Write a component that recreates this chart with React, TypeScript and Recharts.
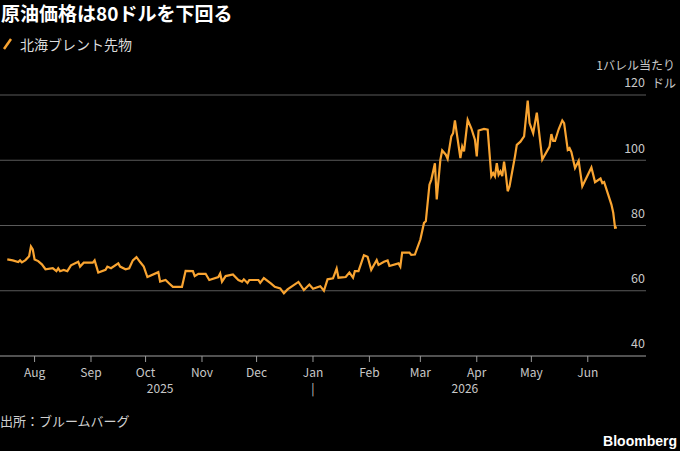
import React from "react";
import { LineChart, Line, XAxis, YAxis, CartesianGrid } from "recharts";

const dates = [
  "2025-07-17", "2025-07-20", "2025-07-23", "2025-07-24", "2025-07-25", "2025-07-27",
  "2025-07-29", "2025-07-30", "2025-07-31", "2025-08-01", "2025-08-03", "2025-08-05",
  "2025-08-07", "2025-08-11", "2025-08-13", "2025-08-14", "2025-08-15", "2025-08-17",
  "2025-08-19", "2025-08-21", "2025-08-25", "2025-08-26", "2025-08-28", "2025-09-02",
  "2025-09-03", "2025-09-05", "2025-09-09", "2025-09-10", "2025-09-12", "2025-09-16",
  "2025-09-17", "2025-09-20", "2025-09-22", "2025-09-24", "2025-09-26", "2025-09-28",
  "2025-09-30", "2025-10-02", "2025-10-08", "2025-10-09", "2025-10-12", "2025-10-14",
  "2025-10-16", "2025-10-21", "2025-10-23", "2025-10-27", "2025-10-28", "2025-10-30",
  "2025-11-03", "2025-11-05", "2025-11-10", "2025-11-11", "2025-11-12", "2025-11-14",
  "2025-11-18", "2025-11-21", "2025-11-23", "2025-11-24", "2025-11-26", "2025-11-27",
  "2025-12-02", "2025-12-03", "2025-12-05", "2025-12-09", "2025-12-11", "2025-12-14",
  "2025-12-16", "2025-12-18", "2025-12-24", "2025-12-27", "2025-12-30", "2026-01-01",
  "2026-01-05", "2026-01-07", "2026-01-09", "2026-01-12", "2026-01-14", "2026-01-15",
  "2026-01-19", "2026-01-21", "2026-01-23", "2026-01-24", "2026-01-26", "2026-01-29",
  "2026-01-31", "2026-02-02", "2026-02-05", "2026-02-06", "2026-02-09", "2026-02-11",
  "2026-02-12", "2026-02-17", "2026-02-18", "2026-02-19", "2026-02-23", "2026-02-24",
  "2026-02-26", "2026-03-01", "2026-03-03", "2026-03-04", "2026-03-06", "2026-03-07",
  "2026-03-09", "2026-03-10", "2026-03-12", "2026-03-13", "2026-03-15", "2026-03-16",
  "2026-03-18", "2026-03-19", "2026-03-20", "2026-03-21", "2026-03-23", "2026-03-24",
  "2026-03-25", "2026-03-27", "2026-03-29", "2026-03-31", "2026-04-01", "2026-04-02",
  "2026-04-05", "2026-04-07", "2026-04-09", "2026-04-10", "2026-04-11", "2026-04-12",
  "2026-04-13", "2026-04-14", "2026-04-15", "2026-04-16", "2026-04-17", "2026-04-18",
  "2026-04-19", "2026-04-20", "2026-04-22", "2026-04-23", "2026-04-25", "2026-04-27",
  "2026-04-29", "2026-04-30", "2026-05-02", "2026-05-04", "2026-05-07", "2026-05-11",
  "2026-05-12", "2026-05-13", "2026-05-14", "2026-05-16", "2026-05-18", "2026-05-19",
  "2026-05-21", "2026-05-22", "2026-05-23", "2026-05-25", "2026-05-27", "2026-05-29",
  "2026-06-03", "2026-06-05", "2026-06-08", "2026-06-09", "2026-06-10", "2026-06-14",
  "2026-06-15", "2026-06-16", "2026-06-17",
];

const brent = [
  69.6, 69.3, 68.8, 69.3, 68.7, 69.4,
  70.6, 73.6, 72.7, 69.6, 69.1, 68.1,
  66.6, 66.9, 66.0, 66.9, 66.0, 66.4,
  66.0, 67.8, 68.9, 67.4, 68.6, 68.6,
  69.3, 65.6, 66.4, 67.4, 66.9, 68.4,
  67.4, 66.6, 66.9, 69.3, 70.3, 68.8,
  67.4, 64.2, 65.7, 62.8, 63.3, 62.2,
  61.2, 61.2, 66.1, 66.0, 64.5, 65.2,
  65.2, 63.3, 64.2, 65.3, 62.8, 64.5,
  65.0, 63.3, 62.8, 63.5, 62.4, 63.3,
  63.3, 62.4, 63.9, 62.2, 61.2, 60.7,
  59.2, 60.4, 62.7, 60.2, 61.9, 60.6,
  61.4, 60.0, 63.5, 63.8, 66.8, 64.0,
  64.2, 65.6, 64.0, 66.0, 66.0, 70.9,
  70.4, 66.4, 69.4, 67.9, 68.9, 69.3,
  67.6, 68.4, 67.4, 71.7, 71.7, 71.0,
  71.1, 75.7, 80.8, 81.3, 92.5, 94.0,
  99.1, 88.0, 100.2, 103.0, 101.7, 100.4,
  107.3, 108.3, 112.2, 108.3, 100.7, 104.2,
  102.7, 112.4, 109.8, 106.3, 101.2, 109.1,
  109.6, 109.4, 95.1, 96.1, 95.1, 99.1,
  95.6, 96.6, 95.1, 99.6, 95.6, 90.5,
  92.0, 95.1, 101.2, 104.7, 105.7, 107.3,
  118.3, 111.4, 108.3, 114.6, 100.2, 104.2,
  108.0, 105.9, 105.9, 109.5, 112.2, 111.4,
  103.2, 103.7, 102.5, 97.6, 99.8, 92.0,
  97.8, 93.3, 94.4, 93.0, 93.3, 86.4,
  83.9, 79.3, 79.4,
];

const monthTicks = [
  "2025-08-01", "2025-09-01", "2025-10-01", "2025-11-01", "2025-12-01", "2026-01-01",
  "2026-02-01", "2026-03-01", "2026-04-01", "2026-05-01", "2026-06-01",
];
const monthLabels = ["Aug", "Sep", "Oct", "Nov", "Dec", "Jan", "Feb", "Mar", "Apr", "May", "Jun"];
const xDomain = ["2025-07-13", "2026-07-03"];
const yearBreak = "2026-01-01";
const yearLabels = ["2025", "|", "2026"];
const yTicks = [40, 60, 80, 100, 120];

const dayNum = (s: string) => {
  const [y, m, d] = s.split("-").map(Number);
  return Date.UTC(y, m - 1, d) / 86400000;
};

const data = dates.map((d, i) => ({ t: dayNum(d), price: brent[i] }));

const firstDay = data[0].t;
const lastDay = data[data.length - 1].t;
const breakDay = dayNum(yearBreak);
const yearTicks = [(firstDay + breakDay) / 2, breakDay, (breakDay + lastDay) / 2];
const monthDays = monthTicks.map(dayNum);

const JP = '"Noto Sans CJK JP", "Noto Sans", sans-serif';
const ORANGE = "#f9a431";
const GRID = "#5a5a5a";
const TICK = "#c8c8c8";

const YTick = (props: any) => {
  const { x, y, payload } = props;
  const tx = x - 9;
  return (
    <g>
      <text x={tx} y={y - 11} textAnchor="end" dominantBaseline="middle" fill={TICK} fontSize={12.5} fontFamily={JP}>
        {payload.value}
      </text>
      {payload.value === 120 && (
        <>
          <text x={tx + 7} y={y - 10} textAnchor="start" dominantBaseline="middle" fill={TICK} fontSize={12} fontFamily={JP}>
            ドル
          </text>
          <text x={tx + 30} y={y - 28} textAnchor="end" dominantBaseline="middle" fill={TICK} fontSize={12} fontFamily={JP}>
            1バレル当たり
          </text>
        </>
      )}
    </g>
  );
};

export default function App() {
  return (
    <div
      style={{
        position: "fixed",
        left: 0,
        top: 0,
        width: 680,
        height: 451,
        background: "#000",
        fontFamily: JP,
        overflow: "hidden",
      }}
    >
      <div style={{ position: "absolute", left: 1, top: 0, fontSize: 19, fontWeight: 700, color: "#fff", lineHeight: "25px" }}>
        原油価格は80ドルを下回る
      </div>
      <div style={{ position: "absolute", left: 2, top: 34, display: "flex", alignItems: "center", color: "#dcdcdc", fontSize: 14, lineHeight: "20px" }}>
        <svg width={12} height={12} style={{ marginRight: 6 }}>
          <line x1={2} y1={11} x2={9} y2={1} stroke={ORANGE} strokeWidth={2.5} />
        </svg>
        北海ブレント先物
      </div>
      <div style={{ position: "absolute", left: 0, top: 0 }}>
        <LineChart width={680} height={451} data={data} margin={{ top: 95, right: 0, bottom: 49, left: 0 }}>
          <CartesianGrid horizontal vertical={false} stroke={GRID} />
          <XAxis
            dataKey="t"
            type="number"
            domain={[dayNum(xDomain[0]), dayNum(xDomain[1])]}
            ticks={monthDays}
            tickFormatter={(v: number) => monthLabels[monthDays.indexOf(v)] ?? ""}
            axisLine={{ stroke: "#777" }}
            tickLine={{ stroke: "#999" }}
            tickSize={6}
            tickMargin={6}
            height={26}
            tick={{ fill: TICK, fontSize: 12, fontFamily: JP }}
            interval={0}
          />
          <XAxis
            xAxisId="year"
            dataKey="t"
            type="number"
            domain={[dayNum(xDomain[0]), dayNum(xDomain[1])]}
            ticks={yearTicks}
            tickFormatter={(v: number) => yearLabels[yearTicks.indexOf(v)] ?? ""}
            axisLine={false}
            tickLine={false}
            tickSize={0}
            tickMargin={2}
            height={20}
            tick={{ fill: TICK, fontSize: 12, fontFamily: JP }}
            interval={0}
          />
          <YAxis
            orientation="right"
            domain={[40, 120]}
            ticks={yTicks}
            width={34}
            axisLine={false}
            tickLine={false}
            tick={<YTick />}
            interval={0}
          />
          <Line
            type="linear"
            dataKey="price"
            stroke={ORANGE}
            strokeWidth={2.2}
            dot={false}
            isAnimationActive={false}
          />
        </LineChart>
      </div>
      <div style={{ position: "absolute", left: 0, top: 412, fontSize: 13, color: "#d0d0d0", lineHeight: "18px" }}>
        出所：ブルームバーグ
      </div>
      <div style={{ position: "absolute", right: 3, top: 432, fontSize: 14, fontWeight: 700, color: "#fff", lineHeight: "18px", fontFamily: '"Liberation Sans", Arial, sans-serif' }}>
        Bloomberg
      </div>
    </div>
  );
}
